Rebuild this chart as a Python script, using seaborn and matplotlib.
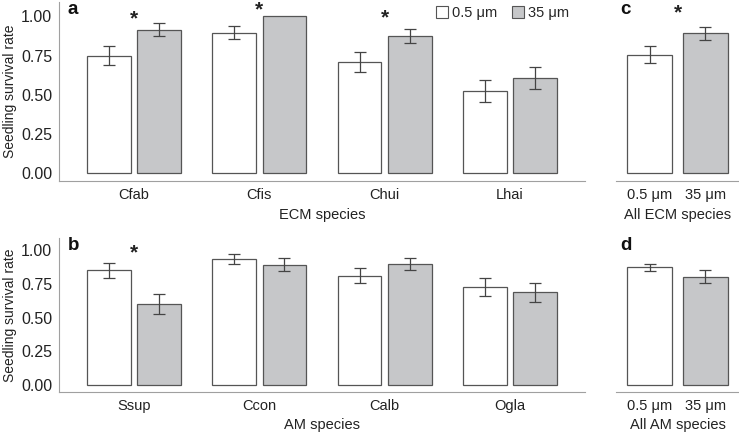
import numpy as np
import pandas as pd
import matplotlib
matplotlib.use("Agg")
import matplotlib.pyplot as plt
from matplotlib.patches import Patch
import seaborn as sns

# ---- data ----
sizes = ["0.5 μm", "35 μm"]

ecm_species = ["Cfab", "Cfis", "Chui", "Lhai"]
ecm_small = [0.750, 0.896, 0.709, 0.524]
ecm_small_se = [0.063, 0.043, 0.064, 0.070]
ecm_large = [0.915, 1.000, 0.877, 0.605]
ecm_large_se = [0.040, 0.0, 0.045, 0.070]
ecm_stars = ["Cfab", "Cfis", "Chui"]
ecm_star_y = [0.985, 1.04, 0.99]

am_species = ["Ssup", "Ccon", "Calb", "Ogla"]
am_small = [0.851, 0.935, 0.811, 0.727]
am_small_se = [0.053, 0.035, 0.055, 0.065]
am_large = [0.601, 0.895, 0.898, 0.688]
am_large_se = [0.072, 0.045, 0.045, 0.070]
am_stars = ["Ssup"]
am_star_y = [0.98]

all_ecm = [0.756, 0.892]
all_ecm_se = [0.057, 0.040]
all_am = [0.873, 0.806]
all_am_se = [0.025, 0.047]

WHITE = "#ffffff"
GREY = "#c6c7c9"
EDGE = "#555555"
SPINE = "#a0a0a0"
TEXT = "#222222"
FS = 10.5

sns.set_style("white")
plt.rcParams["font.family"] = ["Liberation Sans", "DejaVu Sans"]
plt.rcParams["font.size"] = FS

W, H = 739, 438
fig = plt.figure(figsize=(W / 100, H / 100), dpi=100)


def px_axes(x0, y0, x1, y1):
    return fig.add_axes([x0 / W, 1 - y1 / H, (x1 - x0) / W, (y1 - y0) / H])


def style_axes(ax, show_y):
    for s in ["top", "right"]:
        ax.spines[s].set_visible(False)
    ax.spines["bottom"].set_color(SPINE)
    ax.spines["left"].set_color(SPINE)
    ax.spines["left"].set_visible(show_y)
    ax.tick_params(axis="both", colors=SPINE, labelcolor=TEXT, labelsize=FS,
                   length=3, width=0.8, pad=2)
    if show_y:
        ax.set_yticks([0, 0.25, 0.5, 0.75, 1.0])
        ax.set_yticklabels(["0.00", "0.25", "0.50", "0.75", "1.00"])
        ax.tick_params(axis="y", labelsize=11.5)
        ax.set_ylabel("Seedling survival rate", fontsize=10, color=TEXT, labelpad=3)
    else:
        ax.set_yticks([])
        ax.set_ylabel("")
    ax.set_ylim(-0.052, 1.092)


def add_errorbars(ax, errs_by_level):
    for cont, errs in zip(ax.containers, errs_by_level):
        for bar, e in zip(cont, errs):
            if e <= 0:
                continue
            xc = bar.get_x() + bar.get_width() / 2
            ax.errorbar(xc, bar.get_height(), yerr=e, fmt="none",
                        ecolor="#444444", elinewidth=0.9, capsize=4,
                        capthick=0.9, zorder=5)


def species_panel(ax, species, small, small_se, large, large_se, stars, star_y, xlabel):
    df = pd.DataFrame({
        "species": species * 2,
        "size": [sizes[0]] * len(species) + [sizes[1]] * len(species),
        "rate": small + large,
    })
    sns.barplot(data=df, x="species", y="rate", hue="size", hue_order=sizes,
                order=species, palette=[WHITE, GREY], edgecolor=EDGE,
                linewidth=0.9, width=0.8, gap=0.125, errorbar=None,
                legend=False, ax=ax)
    add_errorbars(ax, [small_se, large_se])
    for sp, sy in zip(stars, star_y):
        ax.text(species.index(sp), sy, "*", ha="center", va="center",
                fontsize=15, fontweight="bold", color=TEXT)
    ax.set_xlim(-0.6, len(species) - 0.4)
    style_axes(ax, True)
    ax.set_xlabel(xlabel, fontsize=FS, color=TEXT, labelpad=4)


def pooled_panel(ax, vals, errs, star, xlabel):
    df = pd.DataFrame({"size": sizes, "rate": vals})
    sns.barplot(data=df, x="size", y="rate", hue="size", hue_order=sizes,
                order=sizes, palette=[WHITE, GREY], edgecolor=EDGE,
                linewidth=0.9, width=0.8, errorbar=None, legend=False, ax=ax)
    add_errorbars(ax, [[errs[0]], [errs[1]]])
    if star:
        ax.text(0.5, 1.02, "*", ha="center", va="center",
                fontsize=15, fontweight="bold", color=TEXT)
    ax.set_xlim(-0.6, 1.6)
    style_axes(ax, False)
    ax.set_xlabel(xlabel, fontsize=FS, color=TEXT, labelpad=4)


ax_a = px_axes(59, 2, 585, 181)
ax_c = px_axes(616, 2, 739, 181)
ax_b = px_axes(59, 238, 585, 392)
ax_d = px_axes(616, 238, 739, 392)

species_panel(ax_a, ecm_species, ecm_small, ecm_small_se, ecm_large, ecm_large_se,
              ecm_stars, ecm_star_y, "ECM species")
species_panel(ax_b, am_species, am_small, am_small_se, am_large, am_large_se,
              am_stars, am_star_y, "AM species")
pooled_panel(ax_c, all_ecm, all_ecm_se, True, "All ECM species")
pooled_panel(ax_d, all_am, all_am_se, False, "All AM species")

for lab, x, y in [("a", 68, 10), ("b", 68, 245), ("c", 620, 10), ("d", 620, 245)]:
    fig.text(x / W, 1 - y / H, lab, fontsize=13.5, fontweight="bold",
             ha="left", va="center", color="#111111")

handles = [Patch(facecolor=WHITE, edgecolor=EDGE, linewidth=0.8, label=sizes[0]),
           Patch(facecolor=GREY, edgecolor=EDGE, linewidth=0.8, label=sizes[1])]
fig.legend(handles=handles, loc="center left", bbox_to_anchor=(436 / W, 1 - 13 / H),
           ncol=2, frameon=False, fontsize=FS, handlelength=0.8, handleheight=0.8,
           handletextpad=0.3, columnspacing=1.0, borderpad=0, borderaxespad=0)

fig.savefig("out.png", dpi=100)
